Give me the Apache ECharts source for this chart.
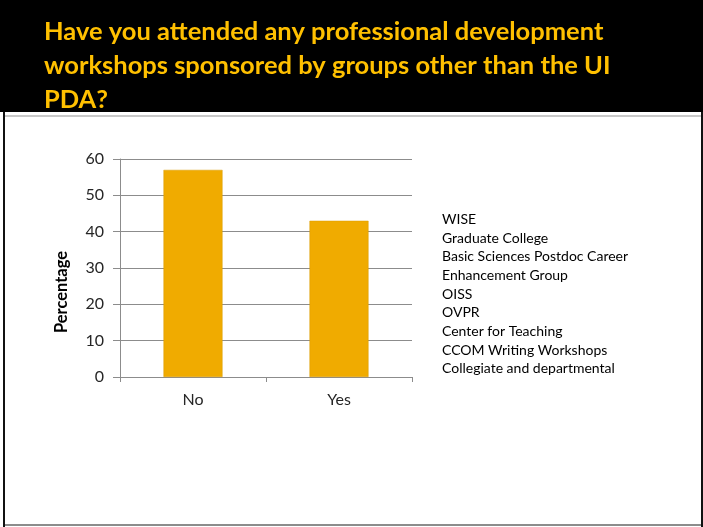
<!DOCTYPE html>
<html>
<head>
<meta charset="utf-8">
<script src="https://cdn.jsdelivr.net/npm/echarts@6/dist/echarts.min.js"></script>
<style>
  html, body { margin: 0; padding: 0; background: #ffffff; }
  #chart { width: 703px; height: 527px; }
</style>
</head>
<body>
<div id="chart"></div>
<script>
// Survey answers and share of respondents (%)
const categories = ['No', 'Yes'];
const percentages = [57, 43];
const yTicks = { min: 0, max: 60, interval: 10 };

// Other sponsoring groups named by respondents
const otherGroups = [
  'WISE',
  'Graduate College',
  'Basic Sciences Postdoc Career',
  'Enhancement Group',
  'OISS',
  'OVPR',
  'Center for Teaching',
  'CCOM Writing Workshops',
  'Collegiate and departmental'
];

const titleLines = [
  'Have you attended any professional development',
  'workshops sponsored by groups other than the UI',
  'PDA?'
];

const FONT = 'Lato, "Open Sans", sans-serif';

const chart = echarts.init(document.getElementById('chart'), null, { renderer: 'canvas' });

chart.setOption({
  backgroundColor: '#ffffff',
  animation: false,
  grid: { left: 120, right: 291, top: 159, bottom: 150, containLabel: false },
  xAxis: {
    type: 'category',
    data: categories,
    axisLine: { show: true, lineStyle: { color: '#8c8c8c', width: 1 } },
    axisTick: { show: true, alignWithLabel: false, length: 5, lineStyle: { color: '#8c8c8c' } },
    axisLabel: { color: '#262626', fontFamily: FONT, fontSize: 16, margin: 15 }
  },
  yAxis: {
    type: 'value',
    min: yTicks.min,
    max: yTicks.max,
    interval: yTicks.interval,
    name: 'Percentage',
    nameLocation: 'middle',
    nameGap: 50,
    nameRotate: 90,
    nameTextStyle: { color: '#000000', fontFamily: FONT, fontSize: 16.5, fontWeight: 'bold', padding: [0, 0, 0, -48] },
    axisLine: { show: true, lineStyle: { color: '#8c8c8c', width: 1 } },
    axisTick: { show: true, length: 7, lineStyle: { color: '#8c8c8c' } },
    axisLabel: { color: '#262626', fontFamily: FONT, fontSize: 16, margin: 16 },
    splitLine: { show: true, lineStyle: { color: '#8c8c8c', width: 1 } }
  },
  series: [{
    type: 'bar',
    data: percentages,
    barWidth: 59,
    itemStyle: { color: '#f0ab00', borderColor: '#d99a00', borderWidth: 0.5 }
  }],
  graphic: [
    // header band
    { type: 'rect', shape: { x: 0, y: 0, width: 703, height: 112 }, style: { fill: '#000000' }, z: 10 },
    // frame of the slide body
    { type: 'rect', shape: { x: 3, y: 112, width: 2, height: 415 }, style: { fill: '#111111' }, z: 10 },
    { type: 'rect', shape: { x: 701, y: 112, width: 2, height: 415 }, style: { fill: '#111111' }, z: 10 },
    { type: 'rect', shape: { x: 5, y: 115, width: 696, height: 2 }, style: { fill: '#c8c8c8' }, z: 10 },
    { type: 'rect', shape: { x: 5, y: 524, width: 696, height: 2 }, style: { fill: '#8c8c8c' }, z: 10 },
    // title
    {
      type: 'text', left: 44, top: 15, z: 11,
      style: {
        text: titleLines.join('\n'),
        fill: '#ffc000',
        font: 'bold 25.5px ' + FONT,
        lineHeight: 34
      }
    },
    // list of other groups
    {
      type: 'text', left: 442, top: 210, z: 11,
      style: {
        text: otherGroups.join('\n'),
        fill: '#000000',
        font: '14px ' + FONT,
        lineHeight: 18.7
      }
    }
  ]
});
</script>
</body>
</html>
